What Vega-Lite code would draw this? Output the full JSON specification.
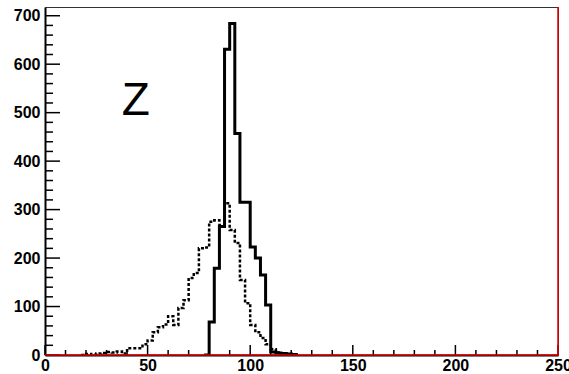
{
  "$schema": "https://vega.github.io/schema/vega-lite/v6.json",
  "width": 513,
  "height": 348,
  "autosize": {"type": "none"},
  "padding": {"left": 45, "top": 7, "right": 11, "bottom": 19},
  "background": "white",
  "config": {"view": {"stroke": "#333", "strokeWidth": 1}},
  "datasets": {
    "dashed": [
      {"x": 17.5, "y": 0}, {"x": 20, "y": 2}, {"x": 22.5, "y": 1}, {"x": 25, "y": 3}, {"x": 27.5, "y": 4},
      {"x": 30, "y": 6}, {"x": 32.5, "y": 5}, {"x": 35, "y": 7}, {"x": 37.5, "y": 3}, {"x": 40, "y": 14},
      {"x": 42.5, "y": 14}, {"x": 45, "y": 14}, {"x": 47.5, "y": 22}, {"x": 50, "y": 30}, {"x": 52.5, "y": 47},
      {"x": 55, "y": 57}, {"x": 57.5, "y": 63}, {"x": 60, "y": 80}, {"x": 62.5, "y": 62}, {"x": 65, "y": 97},
      {"x": 67.5, "y": 113}, {"x": 70, "y": 159}, {"x": 72.5, "y": 169}, {"x": 75, "y": 220}, {"x": 77.5, "y": 222},
      {"x": 80, "y": 275}, {"x": 82.5, "y": 278}, {"x": 85, "y": 268}, {"x": 87.5, "y": 313}, {"x": 90, "y": 258},
      {"x": 92.5, "y": 231}, {"x": 95, "y": 155}, {"x": 97.5, "y": 107}, {"x": 100, "y": 62}, {"x": 102.5, "y": 47},
      {"x": 105, "y": 35}, {"x": 107.5, "y": 22}, {"x": 110, "y": 12}, {"x": 112.5, "y": 5}, {"x": 115, "y": 3},
      {"x": 117.5, "y": 2}, {"x": 120, "y": 0}
    ],
    "solid": [
      {"x": 77.5, "y": 0}, {"x": 80, "y": 68}, {"x": 82.5, "y": 179}, {"x": 85, "y": 265}, {"x": 87.5, "y": 631},
      {"x": 90, "y": 684}, {"x": 92.5, "y": 457}, {"x": 95, "y": 315}, {"x": 97.5, "y": 315}, {"x": 100, "y": 223},
      {"x": 102.5, "y": 200}, {"x": 105, "y": 165}, {"x": 107.5, "y": 103}, {"x": 110, "y": 6}, {"x": 112.5, "y": 4},
      {"x": 115, "y": 3}, {"x": 117.5, "y": 2}, {"x": 120, "y": 1}, {"x": 122.5, "y": 0}
    ],
    "red": [
      {"x": 0, "y": 0}, {"x": 250, "y": 0}, {"x": 250, "y": 718}
    ],
    "note": [
      {"label": "Z", "x": 44.3, "y": 495}
    ],
    "xmajor": [{"v": 0}, {"v": 50}, {"v": 100}, {"v": 150}, {"v": 200}, {"v": 250}],
    "xminor": [{"v": 10}, {"v": 20}, {"v": 30}, {"v": 40}, {"v": 60}, {"v": 70}, {"v": 80}, {"v": 90}, {"v": 110}, {"v": 120},
      {"v": 130}, {"v": 140}, {"v": 160}, {"v": 170}, {"v": 180}, {"v": 190}, {"v": 210}, {"v": 220}, {"v": 230}, {"v": 240}],
    "ymajor": [{"v": 0}, {"v": 100}, {"v": 200}, {"v": 300}, {"v": 400}, {"v": 500}, {"v": 600}, {"v": 700}],
    "yminor": [{"v": 20}, {"v": 40}, {"v": 60}, {"v": 80}, {"v": 120}, {"v": 140}, {"v": 160}, {"v": 180}, {"v": 220}, {"v": 240},
      {"v": 260}, {"v": 280}, {"v": 320}, {"v": 340}, {"v": 360}, {"v": 380}, {"v": 420}, {"v": 440}, {"v": 460}, {"v": 480},
      {"v": 520}, {"v": 540}, {"v": 560}, {"v": 580}, {"v": 620}, {"v": 640}, {"v": 660}, {"v": 680}]
  },
  "layer": [
    {
      "data": {"name": "dashed"},
      "mark": {"type": "line", "interpolate": "step-after", "color": "black", "strokeWidth": 2.5, "strokeDash": [3, 2], "clip": true},
      "encoding": {
        "x": {"field": "x", "type": "quantitative", "scale": {"domain": [0, 250], "nice": false, "zero": false},
          "axis": {"orient": "bottom", "title": null, "values": [0, 50, 100, 150, 200, 250], "ticks": false, "grid": false,
            "domainColor": "black", "domainWidth": 2, "labelFont": "Liberation Sans", "labelFontSize": 16, "labelFontWeight": "bold",
            "labelColor": "black", "labelPadding": 2, "labelFlush": false, "labelOverlap": false, "labelBound": false}},
        "y": {"field": "y", "type": "quantitative", "scale": {"domain": [0, 718], "nice": false, "zero": false},
          "axis": {"orient": "left", "title": null, "values": [0, 100, 200, 300, 400, 500, 600, 700], "ticks": false, "grid": false,
            "domainColor": "black", "domainWidth": 2, "labelFont": "Liberation Sans", "labelFontSize": 16, "labelFontWeight": "bold",
            "labelColor": "black", "labelPadding": 5, "labelFlush": false, "labelOverlap": false, "labelBound": false}}
      }
    },
    {
      "data": {"name": "xmajor"},
      "mark": {"type": "rule", "color": "black", "strokeWidth": 1.5, "y2Offset": -10},
      "encoding": {
        "x": {"field": "v", "type": "quantitative", "axis": null},
        "y": {"datum": 0, "type": "quantitative", "axis": null},
        "y2": {"datum": 0}
      }
    },
    {
      "data": {"name": "xminor"},
      "mark": {"type": "rule", "color": "black", "strokeWidth": 1.5, "y2Offset": -5},
      "encoding": {
        "x": {"field": "v", "type": "quantitative", "axis": null},
        "y": {"datum": 0, "type": "quantitative", "axis": null},
        "y2": {"datum": 0}
      }
    },
    {
      "data": {"name": "ymajor"},
      "mark": {"type": "rule", "color": "black", "strokeWidth": 1.5, "x2Offset": 15},
      "encoding": {
        "y": {"field": "v", "type": "quantitative", "axis": null},
        "x": {"datum": 0, "type": "quantitative", "axis": null},
        "x2": {"datum": 0}
      }
    },
    {
      "data": {"name": "yminor"},
      "mark": {"type": "rule", "color": "black", "strokeWidth": 1.5, "x2Offset": 8},
      "encoding": {
        "y": {"field": "v", "type": "quantitative", "axis": null},
        "x": {"datum": 0, "type": "quantitative", "axis": null},
        "x2": {"datum": 0}
      }
    },
    {
      "data": {"name": "solid"},
      "mark": {"type": "line", "interpolate": "step-after", "color": "black", "strokeWidth": 3, "clip": true},
      "encoding": {
        "x": {"field": "x", "type": "quantitative", "axis": null},
        "y": {"field": "y", "type": "quantitative", "axis": null}
      }
    },
    {
      "data": {"name": "red"},
      "mark": {"type": "line", "color": "#e00000", "strokeWidth": 1.5, "clip": false},
      "encoding": {
        "x": {"field": "x", "type": "quantitative", "axis": null},
        "y": {"field": "y", "type": "quantitative", "axis": null}
      }
    },
    {
      "data": {"name": "note"},
      "mark": {"type": "text", "font": "Liberation Sans", "fontSize": 46, "align": "center", "baseline": "alphabetic", "color": "black"},
      "encoding": {
        "x": {"field": "x", "type": "quantitative", "axis": null},
        "y": {"field": "y", "type": "quantitative", "axis": null},
        "text": {"field": "label"}
      }
    }
  ],
  "resolve": {"axis": {"x": "independent", "y": "independent"}}
}
